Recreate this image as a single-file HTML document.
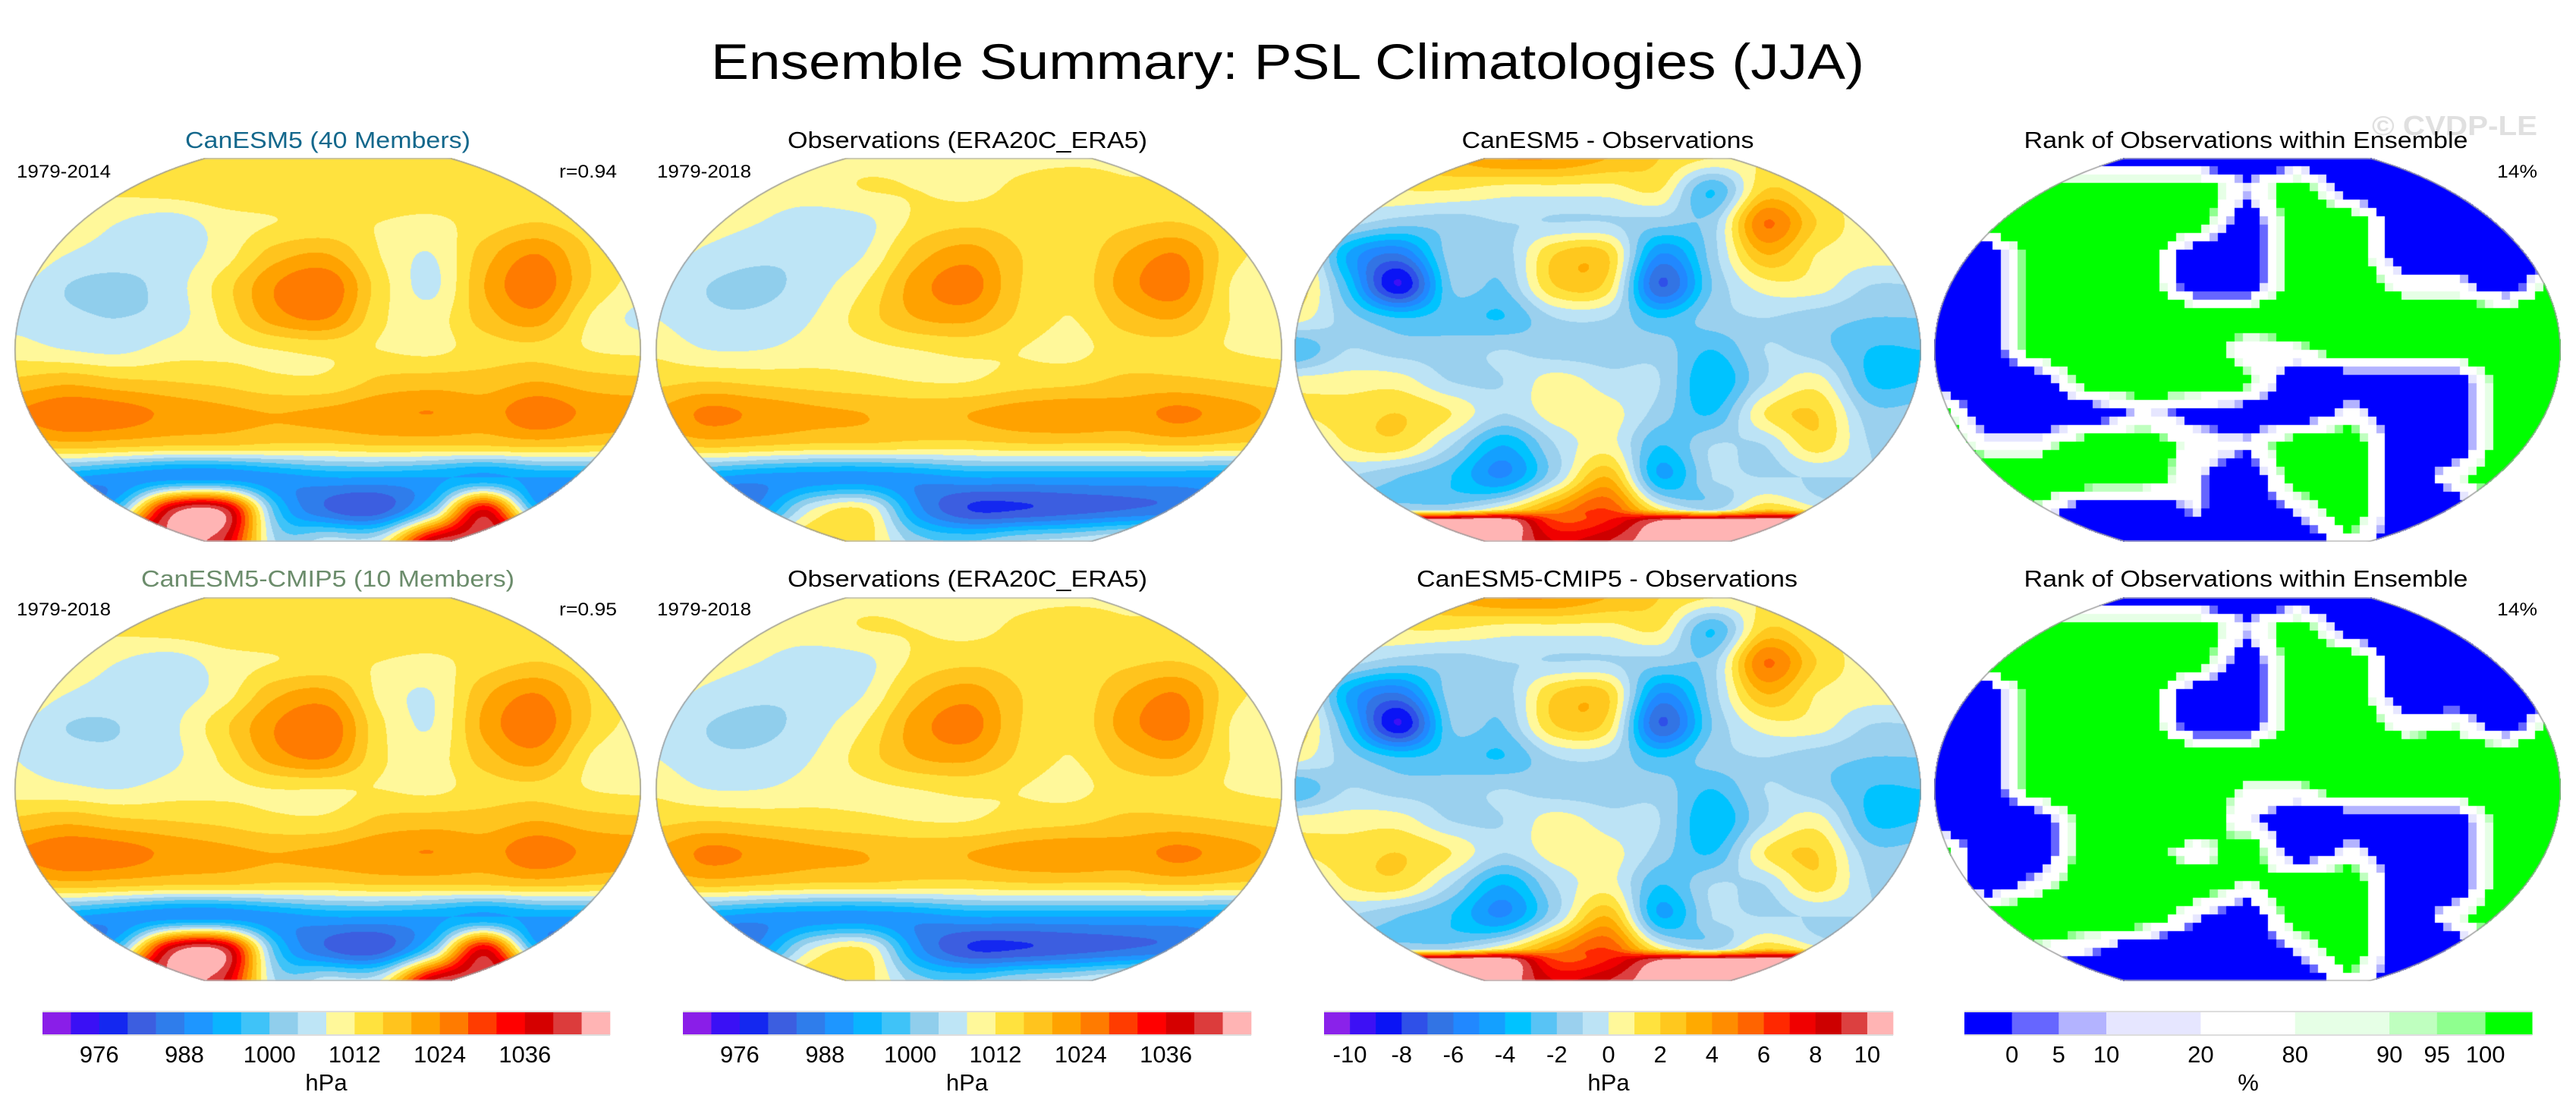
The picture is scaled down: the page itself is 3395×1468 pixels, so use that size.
<!DOCTYPE html>
<html><head><meta charset="utf-8">
<style>
html,body{margin:0;padding:0;background:#fff;}
#root{position:relative;width:3395px;height:1468px;overflow:hidden;background:#fff;font-family:"Liberation Sans",sans-serif;}
canvas{position:absolute;}
svg{position:absolute;left:0;top:0;}
</style></head>
<body>
<div id="root">
<svg id="txt" width="3395" height="1468">
<text x="1697" y="104" font-size="66" text-anchor="middle" textLength="1520" lengthAdjust="spacingAndGlyphs" font-family="Liberation Sans">Ensemble Summary: PSL Climatologies (JJA)</text>
<text x="3235" y="178" font-size="36" font-weight="bold" fill="#e0e0e0" text-anchor="middle" textLength="218" lengthAdjust="spacingAndGlyphs">© CVDP-LE</text>

<text x="432" y="195" font-size="31" fill="#14688c" text-anchor="middle" textLength="376" lengthAdjust="spacingAndGlyphs">CanESM5 (40 Members)</text>
<text x="1275" y="195" font-size="31" text-anchor="middle" textLength="474" lengthAdjust="spacingAndGlyphs">Observations (ERA20C_ERA5)</text>
<text x="2119" y="195" font-size="31" text-anchor="middle" textLength="385" lengthAdjust="spacingAndGlyphs">CanESM5 - Observations</text>
<text x="2960" y="195" font-size="31" text-anchor="middle" textLength="585" lengthAdjust="spacingAndGlyphs">Rank of Observations within Ensemble</text>
<text x="22" y="234" font-size="24" textLength="124" lengthAdjust="spacingAndGlyphs">1979-2014</text>
<text x="813" y="234" font-size="24" text-anchor="end" textLength="76" lengthAdjust="spacingAndGlyphs">r=0.94</text>
<text x="866" y="234" font-size="24" textLength="124" lengthAdjust="spacingAndGlyphs">1979-2018</text>
<text x="3344" y="234" font-size="24" text-anchor="end" textLength="53" lengthAdjust="spacingAndGlyphs">14%</text>

<text x="432" y="773" font-size="31" fill="#6b8c6b" text-anchor="middle" textLength="492" lengthAdjust="spacingAndGlyphs">CanESM5-CMIP5 (10 Members)</text>
<text x="1275" y="773" font-size="31" text-anchor="middle" textLength="474" lengthAdjust="spacingAndGlyphs">Observations (ERA20C_ERA5)</text>
<text x="2118" y="773" font-size="31" text-anchor="middle" textLength="502" lengthAdjust="spacingAndGlyphs">CanESM5-CMIP5 - Observations</text>
<text x="2960" y="773" font-size="31" text-anchor="middle" textLength="585" lengthAdjust="spacingAndGlyphs">Rank of Observations within Ensemble</text>
<text x="22" y="811" font-size="24" textLength="124" lengthAdjust="spacingAndGlyphs">1979-2018</text>
<text x="813" y="811" font-size="24" text-anchor="end" textLength="76" lengthAdjust="spacingAndGlyphs">r=0.95</text>
<text x="866" y="811" font-size="24" textLength="124" lengthAdjust="spacingAndGlyphs">1979-2018</text>
<text x="3344" y="811" font-size="24" text-anchor="end" textLength="53" lengthAdjust="spacingAndGlyphs">14%</text>
<g id="cbars"></g>
</svg>
</div>
<script>
// ---- colour levels ----
const hpaColors=["#8a1ee8","#3a10f5","#1428f0","#3c5ee0","#2f7deb","#1e96ff","#0ab4ff","#3fc3f8","#90ceec","#bee5f6","#fff89a","#ffe23e","#ffc41e","#ffa200","#ff7b00","#ff3c00","#ff0000","#d50000","#dc3c3c","#ffb4b4"];
const hpaTickLabels=["976","988","1000","1012","1024","1036"];
const hpaTickIdx=[2,5,8,11,14,17];
const diffColors=["#8a22ea","#3d10f5","#0a14f5","#2f50e8","#3274e4","#2188ff","#14a0ff","#00c3ff","#58c3f5","#9ad0ee","#bce3f5","#fff89a","#ffe23e","#ffc81e","#ffaa00","#ff8c00","#ff6400","#ff2800","#f00000","#cd0000","#dc4040","#ffb4b4"];
const diffTickLabels=["-10","-8","-6","-4","-2","0","2","4","6","8","10"];
const diffTickIdx=[1,3,5,7,9,11,13,15,17,19,21];
const rankColors=["#0000ff","#6666ff","#b3b3ff","#e6e6ff","#ffffff","#e6ffe6","#bfffbf","#8fff8f","#00ff00"];
const rankBounds=[2,5,10,20,80,90,95,98];
const rankTickLabels=["0","5","10","20","80","90","95","100"];

// ---- row latitudes (fraction of map height) ----
const rowsStd=[0,0.083,0.167,0.25,0.333,0.417,0.5,0.583,0.667,0.75,0.833,0.917,1];
const rowsDiff=[0,0.083,0.167,0.25,0.333,0.417,0.5,0.583,0.667,0.75,0.833,0.917,0.945,1];

// ---- fields (rows north->south, 13 cols west->east) ----
const modelPSL1=[
[1015,1015,1015,1015,1015,1015,1015,1015,1015,1015,1015,1015,1015],
[1013,1013,1013,1014,1015,1015,1015,1015,1015,1015,1015,1015,1015],
[1012,1011,1008,1006,1010,1012,1013,1012,1011,1014,1016,1014,1013],
[1012,1008,1006,1006,1010,1018,1020,1012,1008,1018,1024,1016,1012],
[1009,1004,1003,1006,1014,1024,1027,1014,1007,1020,1027,1016,1010],
[1007,1005,1004,1006,1013,1022,1024,1013,1010,1018,1022,1012,1007],
[1010,1008,1007,1010,1011,1012,1013,1012,1011,1014,1015,1012,1011],
[1017,1019,1017,1016,1015,1013,1013,1017,1018,1018,1020,1018,1017],
[1024,1027,1026,1023,1021,1020,1021,1023,1024,1022,1027,1023,1022],
[1016,1018,1017,1016,1016,1015,1015,1016,1016,1016,1017,1016,1015],
[993,992,990,990,990,990,992,992,992,992,992,992,992],
[982,982,1000,1040,1042,998,984,982,1000,1036,996,990,990],
[1000,1000,1040,1044,1040,1004,1006,1008,1040,1042,1040,1000,1000]];
const modelPSL2=[
[1015,1015,1015,1015,1015,1015,1015,1015,1015,1015,1015,1015,1015],
[1013,1013,1013,1014,1015,1015,1015,1015,1015,1015,1015,1015,1015],
[1012,1011,1008,1006,1010,1012,1013,1012,1011,1014,1016,1014,1013],
[1012,1008,1006,1006,1010,1019,1021,1011,1008,1019,1024,1016,1012],
[1009,1004,1004,1007,1015,1024,1027,1013,1008,1021,1027,1016,1010],
[1008,1006,1005,1007,1013,1022,1024,1013,1010,1018,1022,1012,1008],
[1010,1009,1008,1010,1011,1012,1012,1012,1011,1014,1015,1012,1011],
[1017,1019,1017,1016,1015,1013,1013,1017,1018,1018,1020,1018,1017],
[1024,1027,1026,1023,1021,1020,1021,1023,1024,1022,1027,1023,1022],
[1016,1018,1017,1016,1016,1015,1015,1016,1016,1016,1017,1016,1015],
[993,992,990,990,990,990,992,992,992,992,992,992,992],
[982,982,1000,1040,1042,998,984,982,1000,1036,996,990,990],
[1000,1000,1040,1044,1040,1004,1006,1008,1040,1042,1040,1000,1000]];
const obsPSL=[
[1011,1011,1011,1011,1011,1011,1011,1011,1011,1011,1011,1011,1011],
[1011,1011,1010,1010,1012,1012,1011,1013,1015,1013,1013,1011,1011],
[1012,1010,1008,1006,1007,1013,1015,1014,1013,1015,1016,1013,1012],
[1010,1007,1005,1005,1008,1018,1022,1016,1013,1020,1024,1014,1010],
[1008,1004,1003,1006,1012,1022,1026,1016,1013,1022,1026,1012,1008],
[1008,1005,1005,1008,1014,1020,1021,1015,1012,1018,1020,1012,1010],
[1011,1008,1008,1010,1011,1012,1013,1012,1011,1014,1014,1012,1011],
[1015,1016,1015,1014,1013,1012,1012,1014,1015,1017,1017,1016,1015],
[1020,1025,1023,1021,1020,1019,1020,1022,1023,1022,1025,1022,1019],
[1015,1017,1016,1015,1015,1014,1014,1015,1015,1015,1016,1015,1014],
[993,992,990,990,990,990,992,992,992,992,992,992,992],
[982,982,990,1008,1012,990,980,980,982,984,986,990,990],
[1000,1000,1010,1016,1014,1002,1000,1004,1006,1010,1012,1000,1000]];
const diffPSL1=[
[1,1,2,3,4,4,3,2,1,1,1,1,1],
[0.5,0.5,1,1,0.5,0.5,0.5,1,-3,2,1,0.5,0.5],
[0.5,-0.5,-1.5,-1.5,-1,-1,-1,-1.5,-1.5,5,2,0.5,0.5],
[2,-4,-6,-1.5,-1.5,2,2,-5,-1.5,3,1,0.5,0.5],
[2,-3,-9,-2,-2,2,1.5,-7,-2,0.5,0.5,-1,-1],
[0.5,-1.5,-3,-2.5,-3,-1,-1,-3,-1.5,-1,-1.5,-2,-2],
[-3,-1,-1.5,-1.5,-1,-1.5,-1.5,-1.5,-3,-1,-1.5,-3,-3],
[0.5,0.5,0.5,-1,-1,0.5,-0.5,-1,-4,-1,0.5,-3,-3],
[1,1.5,2,1,-1,0.5,0.5,-1.5,-3,1,2,-1.5,-1.5],
[-1,1,1.5,-1,-4,-1,0.5,-3,-1,-1,1.5,-1,-1],
[-1,-1,-2,-3,-5,-1,3,-4,-1,-1,-1,-1,-1],
[-1,-1,-1,-1,1,4,6,1,-1,2,0.5,-1,-1],
[11,11,11,11,11,6,7,10,11,11,11,11,11],
[11,11,11,11,11,8,9,11,11,11,11,11,11]];
const diffPSL2=diffPSL1;
const rankObs1=[
[0,0,0,0,0,0,0,0,0,0,0,0,0],
[0,100,100,100,100,100,40,100,0,0,0,0,0],
[0,100,100,100,100,100,0,100,100,0,0,0,0],
[0,0,100,100,100,0,0,100,100,0,0,0,0],
[0,0,100,100,100,0,0,100,100,50,50,0,100],
[0,0,100,100,100,100,100,100,100,100,100,100,100],
[0,0,100,100,100,100,40,60,100,100,100,100,100],
[0,0,0,100,100,100,80,0,0,0,0,100,100],
[100,0,0,0,40,20,10,0,50,0,0,100,100],
[100,50,50,100,100,50,40,100,100,0,0,100,100],
[100,100,100,100,100,40,0,100,100,0,60,100,100],
[100,100,60,0,0,40,0,40,100,0,0,100,100],
[0,0,0,0,0,0,0,0,60,0,0,0,0]];
const rankObs2=[
[0,0,0,0,0,0,0,0,0,0,0,0,0],
[0,100,100,100,100,100,40,100,0,0,0,0,0],
[0,100,100,100,100,100,0,100,100,0,0,0,0],
[0,0,100,100,100,0,0,100,100,0,0,0,0],
[0,0,100,100,100,0,0,100,100,50,60,0,100],
[0,0,100,100,100,100,100,100,100,100,100,100,100],
[0,0,100,100,100,100,60,60,100,100,100,100,100],
[0,0,0,100,100,100,40,0,0,0,0,100,100],
[100,0,0,100,100,40,100,0,50,0,0,100,100],
[100,0,50,100,100,100,60,100,100,0,0,100,100],
[100,100,100,100,100,40,0,100,100,0,60,100,100],
[100,100,60,40,0,0,0,40,100,0,0,100,100],
[0,0,0,0,0,0,0,0,60,0,0,0,0]];

// ---- layout ----
const MW=826,MH=506;
const colX=[19,864,1706,2549];
const rowY=[208,787];
const root=document.getElementById('root');

function hex(c){return [parseInt(c.substr(1,2),16),parseInt(c.substr(3,2),16),parseInt(c.substr(5,2),16)];}
function hpaIdx(v){return Math.max(0,Math.min(19,Math.floor((v-968)/4)));}
function diffIdx(v){return Math.max(0,Math.min(21,Math.floor(v+11)));}
function rankIdx(v){v=50+(v-50)*2.5;let i=0;while(i<rankBounds.length&&v>=rankBounds[i])i++;return i;}
function rowIndex(rp,fy){
  let j=0;while(j<rp.length-2&&fy>rp[j+1])j++;
  return j+Math.max(0,Math.min(1,(fy-rp[j])/(rp[j+1]-rp[j])));
}
function cr(p0,p1,p2,p3,t){
  return 0.5*((2*p1)+(-p0+p2)*t+(2*p0-5*p1+4*p2-p3)*t*t+(-p0+3*p1-3*p2+p3)*t*t*t);
}
function sampleCubic(g,rp,fx,fy){
  const nc=g[0].length,nr=g.length;
  const gx=fx*(nc-1),gy=rowIndex(rp,fy);
  const x1=Math.min(nc-2,Math.floor(gx)),y1=Math.min(nr-2,Math.floor(gy));
  const tx=gx-x1,ty=gy-y1;
  const cx=i=>Math.max(0,Math.min(nc-1,i)),cy=i=>Math.max(0,Math.min(nr-1,i));
  const r=[];
  for(let k=-1;k<=2;k++){
    const row=g[cy(y1+k)];
    r.push(cr(row[cx(x1-1)],row[x1],row[x1+1],row[cx(x1+2)],tx));
  }
  return cr(r[0],r[1],r[2],r[3],ty);
}
function sampleLin(g,rp,fx,fy){
  const nc=g[0].length;
  const gx=fx*(nc-1),gy=rowIndex(rp,fy);
  const x0=Math.min(nc-2,Math.floor(gx)),y0=Math.min(g.length-2,Math.floor(gy));
  const tx=gx-x0,ty=gy-y0;
  const a=g[y0][x0],b=g[y0][x0+1],c=g[y0+1][x0],d=g[y0+1][x0+1];
  return (a*(1-tx)+b*tx)*(1-ty)+(c*(1-tx)+d*tx)*ty;
}
const RX=MW/2,RY=(MH/2)/0.9195;
function drawMap(name,col,row,grid,rp,colors,idxFn,block){
  const cv=document.createElement('canvas');
  cv.width=MW;cv.height=MH;
  cv.style.left=colX[col]+'px';cv.style.top=rowY[row]+'px';
  
  
  root.insertBefore(cv,document.getElementById('txt'));
  const ctx=cv.getContext('2d');
  const img=ctx.createImageData(MW,MH);
  const rgb=colors.map(hex);
  for(let y=0;y<MH;y++){
    for(let x=0;x<MW;x++){
      const dx=(x+0.5-RX)/RX,dy=(y+0.5-MH/2)/RY;
      if(dx*dx+dy*dy>1)continue;
      let v;
      if(block){
        const sx=Math.floor(x/block)*block+block/2,sy=Math.floor(y/block)*block+block/2;
        v=sampleLin(grid,rp,Math.min(1,sx/(MW-1)),Math.min(1,sy/(MH-1)));
      } else {
        v=sampleCubic(grid,rp,x/(MW-1),y/(MH-1));
      }
      const c=rgb[idxFn(v)];
      const p=(y*MW+x)*4;
      img.data[p]=c[0];img.data[p+1]=c[1];img.data[p+2]=c[2];img.data[p+3]=255;
    }
  }
  ctx.putImageData(img,0,0);
  ctx.save();
  ctx.beginPath();ctx.rect(0,0.5,MW,MH-1);ctx.clip();
  ctx.strokeStyle='#9a9a9a';ctx.lineWidth=1.5;
  ctx.beginPath();ctx.ellipse(RX,MH/2,RX-0.8,RY-0.8,0,0,Math.PI*2);ctx.stroke();
  ctx.restore();
  const hw=RX*Math.sqrt(1-Math.pow((MH/2)/RY,2));
  ctx.strokeStyle='#bbbbbb';ctx.lineWidth=1.5;
  ctx.beginPath();ctx.moveTo(RX-hw,1);ctx.lineTo(RX+hw,1);ctx.moveTo(RX-hw,MH-1);ctx.lineTo(RX+hw,MH-1);ctx.stroke();
}
drawMap('map-canesm5-psl',0,0,modelPSL1,rowsStd,hpaColors,hpaIdx,0);
drawMap('map-obs-psl-1',1,0,obsPSL,rowsStd,hpaColors,hpaIdx,0);
drawMap('map-diff-1',2,0,diffPSL1,rowsDiff,diffColors,diffIdx,0);
drawMap('map-rank-1',3,0,rankObs1,rowsStd,rankColors,rankIdx,11);
drawMap('map-cmip5-psl',0,1,modelPSL2,rowsStd,hpaColors,hpaIdx,0);
drawMap('map-obs-psl-2',1,1,obsPSL,rowsStd,hpaColors,hpaIdx,0);
drawMap('map-diff-2',2,1,diffPSL2,rowsDiff,diffColors,diffIdx,0);
drawMap('map-rank-2',3,1,rankObs2,rowsStd,rankColors,rankIdx,11);

// ---- colorbars ----
const NS='http://www.w3.org/2000/svg';
const cb=document.getElementById('cbars');
const CB_Y=1333,CB_H=31;
function mk(tag,attrs){const e=document.createElementNS(NS,tag);for(const k in attrs)e.setAttribute(k,attrs[k]);return e;}
function colorbar(name,x0,edges,colors,tickPos,tickLabels,unit){
  const g=mk('g',{});
  
  
  for(let i=0;i<colors.length;i++){
    const r=mk('rect',{x:edges[i],y:CB_Y,width:edges[i+1]-edges[i]+0.3,height:CB_H,fill:colors[i]});
    
    
    g.appendChild(r);
  }
  g.appendChild(mk('line',{x1:edges[0],x2:edges[edges.length-1],y1:CB_Y,y2:CB_Y,stroke:'#ddd','stroke-width':2}));
  g.appendChild(mk('line',{x1:edges[0],x2:edges[edges.length-1],y1:CB_Y+CB_H,y2:CB_Y+CB_H,stroke:'#ddd','stroke-width':2}));
  for(let i=0;i<tickLabels.length;i++){
    const t=mk('text',{x:tickPos[i],y:1400,'font-size':31,'text-anchor':'middle'});
    t.textContent=tickLabels[i];
    
    
    g.appendChild(t);
  }
  const u=mk('text',{x:(edges[0]+edges[edges.length-1])/2,y:1437,'font-size':31,'text-anchor':'middle'});
  u.textContent=unit;
  
  
  g.appendChild(u);
  cb.appendChild(g);
}
function evenEdges(x0,x1,n){const e=[];for(let i=0;i<=n;i++)e.push(x0+(x1-x0)*i/n);return e;}
[[56,804,'colorbar-psl-1'],[900,1649,'colorbar-psl-2']].forEach(([a,b,n])=>{
  const e=evenEdges(a,b,20);
  colorbar(n,a,e,hpaColors,hpaTickIdx.map(k=>e[k]),hpaTickLabels,'hPa');
});
(function(){const e=evenEdges(1745,2495,22);
  colorbar('colorbar-diff',1745,e,diffColors,diffTickIdx.map(k=>e[k]),diffTickLabels,'hPa');})();
(function(){const z=[822,880,937,995,1110,1225,1340,1398,1457,1514];
  const e=z.map(v=>1700+v*1.0814);
  colorbar('colorbar-rank',e[0],e,rankColors,[1,2,3,4,5,6,7,8].map(k=>e[k]),rankTickLabels,'%');})();
</script>
</body></html>
